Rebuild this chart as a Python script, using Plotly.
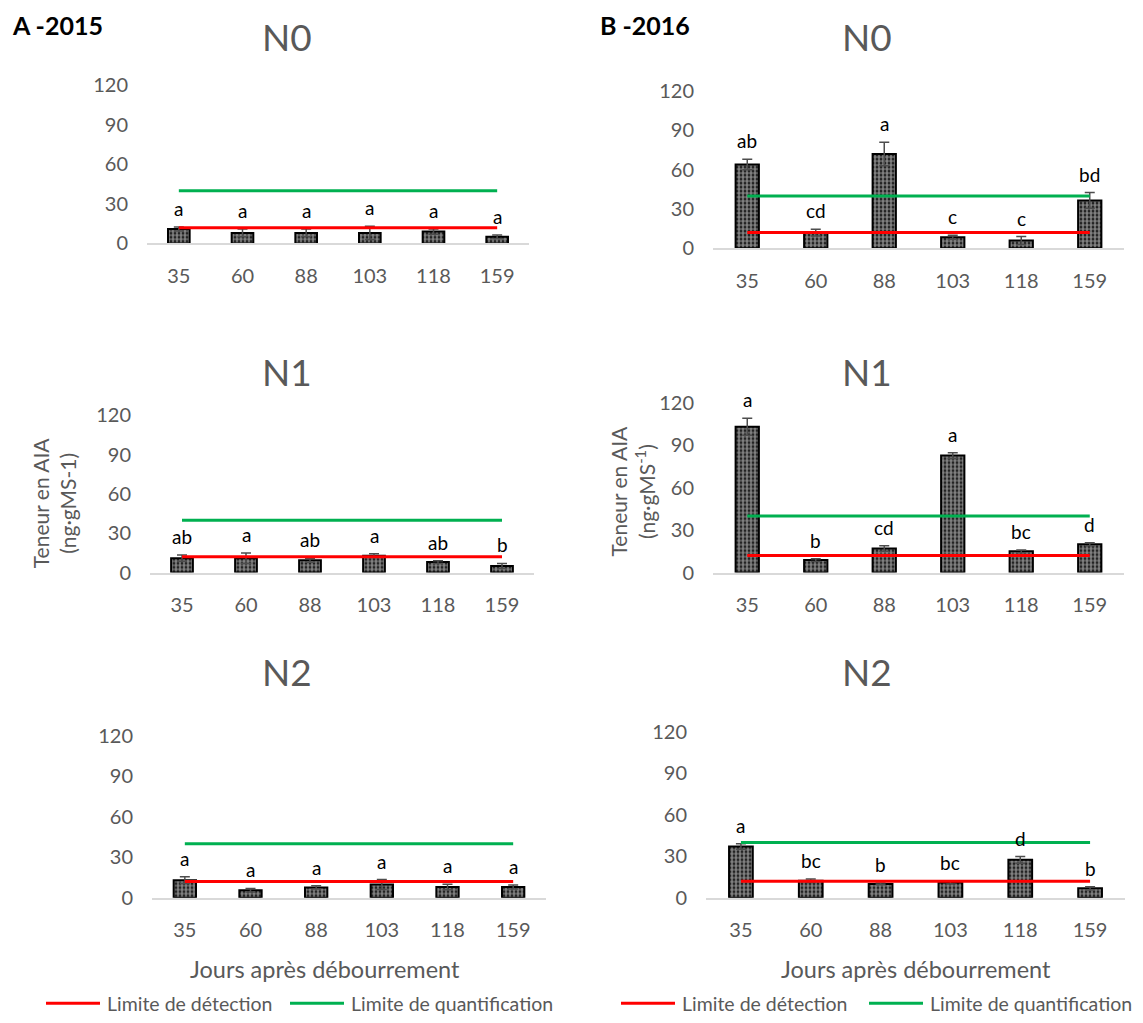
import plotly.graph_objects as go

# ---------------- data ----------------
days = ["35", "60", "88", "103", "118", "159"]
detection_limit = 12
quantification_limit = 40

n0_2015 = [11, 8, 8, 8, 9, 5]
n0_2015_err = [1.5, 3, 3, 5, 2, 1.5]
n0_2015_letters = ["a", "a", "a", "a", "a", "a"]

n1_2015 = [11, 11, 9.4, 12.9, 8, 5]
n1_2015_err = [2.4, 4, 1.5, 1.5, 1, 2]
n1_2015_letters = ["ab", "a", "ab", "a", "ab", "b"]

n2_2015 = [13, 5.6, 7.6, 9.8, 8, 8]
n2_2015_err = [2.5, 1.3, 1.2, 3.7, 2, 1.5]
n2_2015_letters = ["a", "a", "a", "a", "a", "a"]

n0_2016 = [64, 12, 72, 8.4, 6, 36.6]
n0_2016_err = [4, 2.5, 9, 1.5, 3, 6]
n0_2016_letters = ["ab", "cd", "a", "c", "c", "bd"]

n1_2016 = [103, 8.8, 17, 82.6, 15, 20]
n1_2016_err = [6, 1, 2, 2, 1, 1]
n1_2016_letters = ["a", "b", "cd", "a", "bc", "d"]

n2_2016 = [37, 12.3, 10, 11, 27.4, 6.8]
n2_2016_err = [2, 1.2, 0.6, 1, 2.4, 1.2]
n2_2016_letters = ["a", "bc", "b", "bc", "d", "b"]

y_ticks = [0, 30, 60, 90, 120]

# ---------------- layout geometry (pixels) ----------------
W, H = 1143, 1023
FONT = "Lato, 'Open Sans', sans-serif"
GRAY = "#595959"


def px(x):
    return x / W


def py(y):
    return 1 - y / H


panels = [
    # title, values, errors, letters, x0, x1, ybottom, ytop, title_x, title_y
    ("N0", n0_2015, n0_2015_err, n0_2015_letters, 147, 529, 236, 74, 287, 24),
    ("N1", n1_2015, n1_2015_err, n1_2015_letters, 150, 534, 573, 412, 287, 367),
    ("N2", n2_2015, n2_2015_err, n2_2015_letters, 152, 546, 906, 740, 287, 674),
    ("N0", n0_2016, n0_2016_err, n0_2016_letters, 713, 1124, 241, 80, 867, 24),
    ("N1", n1_2016, n1_2016_err, n1_2016_letters, 713, 1124, 573, 399, 867, 367),
    ("N2", n2_2016, n2_2016_err, n2_2016_letters, 706, 1125, 906, 736, 867, 674),
]

fig = go.Figure()
annotations = []
shapes = []
layout_axes = {}

for i, (title, vals, errs, letters, x0, x1, yb, yt, tx, ty) in enumerate(panels):
    k = "" if i == 0 else str(i + 1)
    xref, yref = "x" + k, "y" + k
    fig.add_trace(go.Bar(
        x=days, y=vals, xaxis=xref, yaxis=yref, width=0.34,
        marker=dict(color="black", line=dict(color="black", width=2),
                    pattern=dict(shape=".", fgcolor="white", bgcolor="black",
                                 size=4, solidity=0.7)),
        error_y=dict(type="data", array=errs, visible=True, color="#4d4d4d",
                     thickness=1.5, width=5),
        showlegend=False, hoverinfo="skip"))
    fig.add_trace(go.Scatter(
        x=days, y=[detection_limit] * len(days), xaxis=xref, yaxis=yref,
        mode="lines", line=dict(color="#FF0000", width=3), showlegend=False,
        hoverinfo="skip"))
    fig.add_trace(go.Scatter(
        x=days, y=[quantification_limit] * len(days), xaxis=xref, yaxis=yref,
        mode="lines", line=dict(color="#00B050", width=3), showlegend=False,
        hoverinfo="skip"))
    layout_axes["xaxis" + k] = dict(
        domain=[px(x0), px(x1)], anchor=yref, type="category",
        range=[-0.5, len(days) - 0.5], showgrid=False, zeroline=False,
        showline=True, linecolor="#D9D9D9", linewidth=1.5, ticks="",
        tickfont=dict(family=FONT, size=20, color=GRAY), ticklabelstandoff=14,
        fixedrange=True)
    layout_axes["yaxis" + k] = dict(
        domain=[py(yb), py(yt)], anchor=xref, range=[0, 120],
        tickvals=y_ticks, showgrid=False, zeroline=False, showline=False,
        ticks="", tickfont=dict(family=FONT, size=20, color=GRAY),
        ticklabelstandoff=18, fixedrange=True)
    # panel title
    annotations.append(dict(text=title, x=px(tx), y=py(ty), xref="paper",
                            yref="paper", showarrow=False, xanchor="center",
                            yanchor="middle",
                            font=dict(family=FONT, size=37, color=GRAY)))
    # significance letters (category index positions)
    for j, (v, e, lt) in enumerate(zip(vals, errs, letters)):
        annotations.append(dict(text=lt, x=j, y=v + e, xref=xref, yref=yref,
                                showarrow=False, yanchor="bottom", yshift=5,
                                font=dict(family=FONT, size=19, color="black")))

# year labels
for txt, lx in (("<b>A -2015</b>", 10), ("<b>B -2016</b>", 598)):
    annotations.append(dict(text=txt, x=px(lx), y=py(12), xref="paper",
                            yref="paper", showarrow=False, xanchor="left",
                            yanchor="middle",
                            font=dict(family=FONT, size=25, color="black")))

# y-axis titles (middle row)
annotations.append(dict(text="Teneur en AIA<br>(ng·gMS-1)", x=px(54), y=py(502),
                        xref="paper", yref="paper", showarrow=False, textangle=-90,
                        xanchor="center", yanchor="middle",
                        font=dict(family=FONT, size=21, color=GRAY)))
annotations.append(dict(text="Teneur en AIA<br>(ng·gMS<sup>-1</sup>)", x=px(632),
                        y=py(490), xref="paper", yref="paper", showarrow=False,
                        textangle=-90, xanchor="center", yanchor="middle",
                        font=dict(family=FONT, size=21, color=GRAY)))

# x-axis titles
for cx in (325, 916):
    annotations.append(dict(text="Jours après débourrement", x=px(cx), y=py(979),
                            xref="paper", yref="paper", showarrow=False,
                            xanchor="center", yanchor="middle",
                            font=dict(family=FONT, size=23.5, color=GRAY)))

# legends
legend_items = [
    (46, 100, 105, "Limite de détection", "#FF0000"),
    (290, 344, 349, "Limite de quantification", "#00B050"),
    (621, 675, 680, "Limite de détection", "#FF0000"),
    (869, 923, 928, "Limite de quantification", "#00B050"),
]
ly = 1014
for lx0, lx1, tx, txt, col in legend_items:
    shapes.append(dict(type="line", xref="paper", yref="paper", x0=px(lx0), x1=px(lx1),
                       y0=py(ly), y1=py(ly), line=dict(color=col, width=3)))
    annotations.append(dict(text=txt, x=px(tx), y=py(ly), xref="paper", yref="paper",
                            showarrow=False, xanchor="left", yanchor="middle",
                            font=dict(family=FONT, size=19.5, color=GRAY)))

fig.update_layout(
    width=W, height=H, margin=dict(l=0, r=0, t=0, b=0),
    paper_bgcolor="white", plot_bgcolor="white",
    annotations=annotations, shapes=shapes, showlegend=False,
    **layout_axes)

fig.write_html("out.html", config={"displayModeBar": False},
               post_script="document.body.style.margin='0';"
                           "document.body.style.overflow='hidden';")
